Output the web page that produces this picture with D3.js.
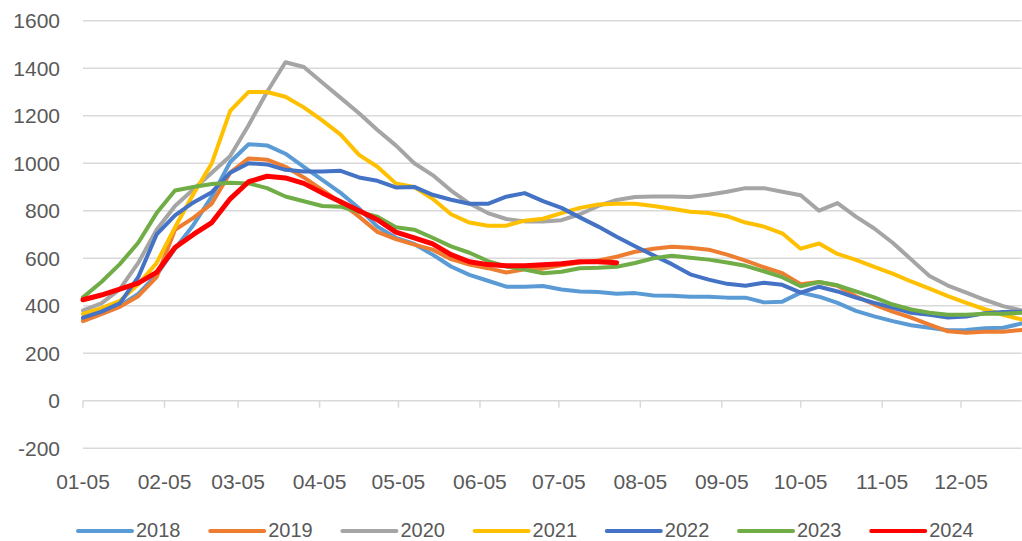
<!DOCTYPE html>
<html>
<head>
<meta charset="utf-8">
<script src="https://cdn.jsdelivr.net/npm/d3@7"></script>
<style>
    body { margin: 0; background: #ffffff; }
    svg text { font-family: "Liberation Sans", Arial, sans-serif; fill: #595959; }
</style>
</head>
<body>
<div id="chart"></div>
<script>
// week ending dates (same calendar for every year), first point is 01-05
var startDate = new Date(2023, 0, 5);
var weekCount = 52;

var years = ["2018", "2019", "2020", "2021", "2022", "2023", "2024"];
var colors = ["#5B9BD5", "#ED7D31", "#A5A5A5", "#FFC000", "#4472C4", "#70AD47", "#FF0000"];

var tickLabels = ["01-05", "02-05", "03-05", "04-05", "05-05", "06-05",
                  "07-05", "08-05", "09-05", "10-05", "11-05", "12-05"];
var yTicks = [-200, 0, 200, 400, 600, 800, 1000, 1200, 1400, 1600];

// weekly values
var v2018 = [345, 370, 400, 450, 530, 640, 740, 860, 1005, 1080, 1075, 1040, 985, 930, 875, 810,
             733, 686, 660, 615, 565, 530, 505, 480, 480, 483, 468, 460, 458, 450, 453, 443,
             442, 438, 438, 434, 434, 414, 417, 455, 438, 412, 378, 355, 335, 318, 307, 297,
             298, 305, 307, 325];
var v2019 = [335, 365, 395, 440, 520, 720, 770, 830, 960, 1020, 1015, 985, 940, 888, 834, 775,
             711, 680, 657, 636, 596, 573, 558, 540, 553, 556, 570, 582, 590, 606, 627, 640,
             648, 644, 636, 615, 590, 562, 537, 490, 500, 484, 440, 405, 375, 350, 320, 292,
             286, 290, 290, 298];
var v2020 = [380, 410, 470, 580, 720, 820, 890, 960, 1030, 1160, 1300, 1425, 1405, 1340, 1275, 1210,
             1140, 1075, 1000, 950, 885, 830, 790, 765, 755, 755, 760, 785, 820, 845, 858, 860,
             860, 858, 867, 880, 895, 895, 880, 865, 800, 832, 775, 725, 665, 595, 525, 485,
             455, 425, 398, 380];
var v2021 = [365, 390, 420, 490, 580, 730, 870, 1000, 1220, 1300, 1300, 1280, 1235, 1180, 1120, 1035,
             985, 915, 900, 850, 785, 750, 737, 737, 758, 766, 790, 812, 826, 829, 829, 820,
             808, 796, 790, 777, 750, 733, 705, 640, 662, 618, 593, 563, 535, 502, 472, 440,
             412, 385, 362, 342];
var v2022 = [350, 375, 410, 520, 700, 780, 835, 878, 960, 1000, 995, 972, 965, 965, 968, 940,
             926, 898, 900, 867, 846, 829, 829, 859, 874, 840, 812, 772, 733, 690, 650, 612,
             575, 532, 510, 492, 484, 497, 488, 455, 480, 460, 434, 412, 392, 370, 362, 350,
             354, 368, 373, 375];
var v2023 = [435, 500, 575, 665, 790, 885, 900, 912, 918, 915, 895, 860, 840, 820, 817, 795,
             775, 730, 720, 686, 650, 623, 588, 565, 552, 537, 543, 558, 560, 564, 580, 600,
             610, 602, 594, 582, 568, 545, 520, 482, 500, 486, 460, 435, 405, 384, 370, 362,
             362, 366, 366, 370];
var v2024 = [425, 445, 470, 495, 540, 645, 700, 750, 850, 922, 945, 938, 915, 875, 838, 800,
             762, 710, 686, 660, 615, 585, 573, 568, 568, 572, 577, 585, 585, 581];

var seriesValues = [v2018, v2019, v2020, v2021, v2022, v2023, v2024];

(function() {
    var width = 1022, height = 541;

    var svg = d3.select("#chart").append("svg")
        .attr("width", width)
        .attr("height", height);

    var weeks = d3.timeDay.range(startDate, d3.timeDay.offset(startDate, weekCount * 7), 7);
    var lastDate = weeks[weeks.length - 1];

    var x = d3.scaleTime()
        .domain([startDate, lastDate])
        .range([83, 1021.5]);

    var y = d3.scaleLinear()
        .domain([-200, 1600])
        .range([448.2, 20.7]);

    // horizontal gridlines
    svg.append("g")
        .selectAll("line")
        .data(yTicks)
        .join("line")
        .attr("x1", x.range()[0])
        .attr("x2", x.range()[1])
        .attr("y1", function(d) { return y(d); })
        .attr("y2", function(d) { return y(d); })
        .style("stroke", "#D9D9D9")
        .style("stroke-width", 1.5);

    // y labels
    svg.append("g")
        .selectAll("text")
        .data(yTicks)
        .join("text")
        .attr("x", 60)
        .attr("y", function(d) { return y(d); })
        .attr("text-anchor", "end")
        .attr("dominant-baseline", "central")
        .style("font-size", "21px")
        .text(function(d) { return d; });

    // x axis sits on the zero line, labels go below the chart
    var tickDates = tickLabels.map(function(t) {
        return d3.timeParse("%Y-%m-%d")("2023-" + t);
    });

    svg.append("g")
        .selectAll("line")
        .data(tickDates)
        .join("line")
        .attr("x1", function(d) { return x(d); })
        .attr("x2", function(d) { return x(d); })
        .attr("y1", y(0))
        .attr("y2", y(0) + 7)
        .style("stroke", "#D9D9D9")
        .style("stroke-width", 1.5);

    svg.append("g")
        .selectAll("text")
        .data(tickDates)
        .join("text")
        .attr("x", function(d) { return x(d); })
        .attr("y", 481)
        .attr("text-anchor", "middle")
        .attr("dominant-baseline", "central")
        .style("font-size", "21px")
        .text(function(d, i) { return tickLabels[i]; });

    // lines
    var line = d3.line()
        .x(function(d) { return x(d.date); })
        .y(function(d) { return y(d.value); });

    years.forEach(function(yr, k) {
        var pts = seriesValues[k].map(function(v, i) {
            return {date: weeks[i], value: v};
        });
        svg.append("path")
            .datum(pts)
            .attr("d", line)
            .style("fill", "none")
            .style("stroke", colors[k])
            .style("stroke-width", yr === "2024" ? 5 : 4)
            .style("stroke-linejoin", "round")
            .style("stroke-linecap", "round");
    });

    // legend (baseline kept high enough so the text box stays inside the picture)
    var legend = svg.append("g").attr("transform", "translate(78,531)");
    var item = legend.selectAll("g")
        .data(years)
        .join("g")
        .attr("transform", function(d, i) { return "translate(" + (i * 132.2) + ",0)"; });

    item.append("line")
        .attr("x1", 0)
        .attr("x2", 54)
        .style("stroke", function(d, i) { return colors[i]; })
        .style("stroke-width", 4)
        .style("stroke-linecap", "round");

    item.append("text")
        .attr("x", 58)
        .attr("y", 6)
        .style("font-size", "20px")
        .text(function(d) { return d; });
})();
</script>
</body>
</html>
